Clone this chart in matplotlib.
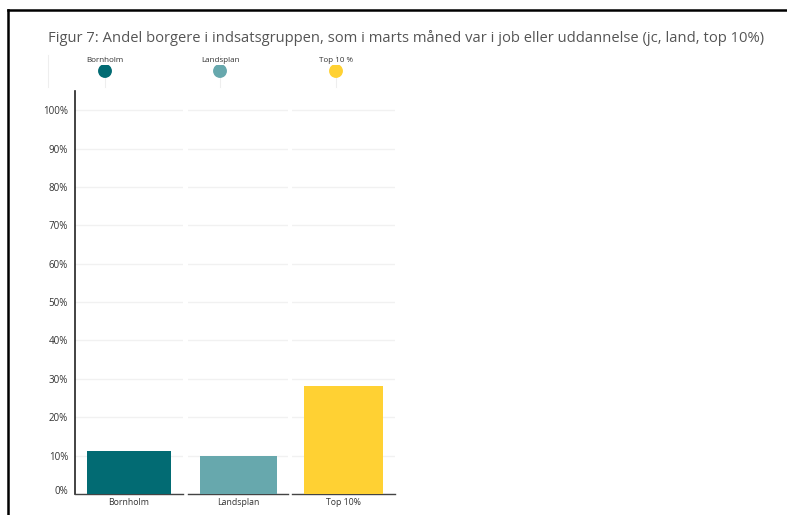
import matplotlib
matplotlib.use("Agg")
import matplotlib.pyplot as plt
from matplotlib.lines import Line2D
import matplotlib.transforms as mtransforms

# ---- data ----
categories = ["Bornholm", "Landsplan", "Top 10%"]
legend_labels = ["Bornholm", "Landsplan", "Top 10 %"]
values = [11.1, 10.0, 28.2]
colors = ["#026b73", "#67a8ad", "#ffd133"]
y_ticks = [0, 10, 20, 30, 40, 50, 60, 70, 80, 90, 100]
y_tick_labels = [f"{t}%" for t in y_ticks]
title = "Figur 7: Andel borgere i indsatsgruppen, som i marts måned var i job eller uddannelse (jc, land, top 10%)"

W, H = 787, 515
fig = plt.figure(figsize=(W / 100, H / 100), dpi=100)
fig.patch.set_facecolor("white")

def fx(px):
    return px / W

def fy(py):
    return 1 - py / H

font = "Open Sans"
grid_c = "#f1f1f1"
text_c = "#333333"

# border lines
fig.add_artist(Line2D([fx(8), fx(8)], [fy(10), fy(515)], color="black", lw=1.8, transform=fig.transFigure))
fig.add_artist(Line2D([fx(8), fx(787)], [fy(10), fy(10)], color="black", lw=1.8, transform=fig.transFigure))

# title
fig.text(fx(48), fy(38), title, fontsize=10.6, color="#555555", family=font, va="center", ha="left")

# panes
panes = [(75, 183), (188, 288), (292, 395)]
top_px, bot_px = 91, 494
ymax = 105.0
axes = []
for i, (x0, x1) in enumerate(panes):
    ax = fig.add_axes([fx(x0), fy(bot_px), fx(x1 - x0), (bot_px - top_px) / H])
    ax.set_xlim(-0.5, 0.5)
    ax.set_ylim(0, ymax)
    ax.set_yticks(y_ticks)
    ax.yaxis.grid(True, color=grid_c, lw=1.0)
    ax.set_axisbelow(True)
    ax.bar([0], [values[i]], width=0.77, color=colors[i], zorder=3)
    ax.set_xticks([0])
    ax.set_xticklabels([categories[i]], fontsize=6.3, color=text_c, family=font)
    ax.tick_params(axis="x", length=0, pad=3)
    for s in ["top", "right"]:
        ax.spines[s].set_visible(False)
    ax.spines["bottom"].set_color("#444444")
    ax.spines["bottom"].set_linewidth(1.0)
    if i == 0:
        ax.spines["left"].set_color("#222222")
        ax.spines["left"].set_linewidth(1.2)
        ax.set_yticklabels(y_tick_labels, fontsize=7.0, color=text_c, family=font)
        ax.tick_params(axis="y", length=0, pad=5)
        lab0 = ax.get_yticklabels()[0]
        lab0.set_transform(lab0.get_transform() + mtransforms.ScaledTranslation(0, 4 / 100, fig.dpi_scale_trans))
    else:
        ax.spines["left"].set_visible(False)
        ax.tick_params(axis="y", length=0, labelleft=False)
    axes.append(ax)

# legend area
leg_x = [105, 220, 336]
lax = fig.add_axes([0, 0, 1, 1], facecolor="none")
lax.set_xlim(0, W)
lax.set_ylim(H, 0)
lax.axis("off")
for px in [48] + leg_x:
    lax.plot([px, px], [55, 87], color="#eeeeee", lw=0.8, zorder=1)
lax.scatter(leg_x, [71] * 3, s=100, c=colors, edgecolors="none", zorder=3)
for px, lab in zip(leg_x, legend_labels):
    lax.text(px, 61, lab, fontsize=5.8, color=text_c, family=font, ha="center", va="center", zorder=4,
             bbox=dict(facecolor="white", edgecolor="none", pad=0.3))

fig.savefig("out.png", dpi=100, facecolor="white")
